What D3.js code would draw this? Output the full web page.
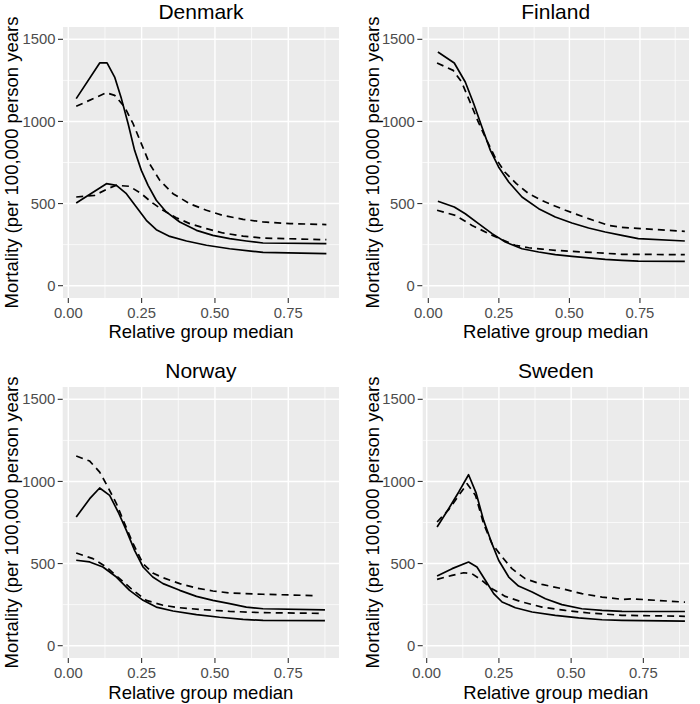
<!DOCTYPE html>
<html>
<head>
<meta charset="utf-8">
<script src="https://cdn.jsdelivr.net/npm/d3@7"></script>
<style>
  html, body { margin: 0; padding: 0; background: #fff; }
  svg { display: block; font-family: "Liberation Sans", Arial, sans-serif; }
</style>
</head>
<body>
<svg id="chart" width="700" height="704"></svg>
<script>
// ---------------- DATA ----------------
const countries = ["Denmark", "Finland", "Norway", "Sweden"];
const xTicks = [0, 0.25, 0.5, 0.75];
const xTickLabels = ["0.00", "0.25", "0.50", "0.75"];
const yTicks = [0, 500, 1000, 1500];
const yTickLabels = ["0", "500", "1000", "1500"];
const xTitle = "Relative group median";
const yTitle = "Mortality (per 100,000 person years";

// series: [relative group median, mortality]
const denmarkSolidHigh = [[0.027,1139],[0.107,1356],[0.132,1356],[0.158,1270],[0.181,1139],[0.204,986],[0.226,824],[0.249,702],[0.272,611],[0.300,520],[0.334,449],[0.380,388],[0.437,337],[0.493,306],[0.550,286],[0.607,272],[0.664,260],[0.880,256]];
const denmarkDashedHigh = [[0.027,1092],[0.130,1175],[0.158,1159],[0.192,1088],[0.221,986],[0.249,865],[0.277,743],[0.312,641],[0.357,560],[0.414,499],[0.471,459],[0.527,428],[0.596,404],[0.664,388],[0.756,378],[0.880,372]];
const denmarkSolidLow = [[0.027,503],[0.130,621],[0.164,611],[0.198,560],[0.232,479],[0.266,398],[0.300,341],[0.346,300],[0.403,272],[0.471,246],[0.550,225],[0.630,209],[0.664,203],[0.880,195]];
const denmarkDashedLow = [[0.027,540],[0.090,550],[0.135,591],[0.164,611],[0.209,605],[0.249,560],[0.283,509],[0.323,459],[0.368,414],[0.414,378],[0.471,347],[0.527,321],[0.596,302],[0.664,290],[0.880,280]];

const finlandSolidHigh = [[0.034,1423],[0.092,1356],[0.131,1240],[0.161,1108],[0.190,966],[0.220,824],[0.249,723],[0.285,631],[0.332,540],[0.391,469],[0.450,418],[0.509,382],[0.568,351],[0.627,327],[0.686,306],[0.744,287],[0.909,272]];
const finlandDashedHigh = [[0.031,1356],[0.088,1311],[0.118,1240],[0.148,1118],[0.177,997],[0.207,885],[0.236,783],[0.271,692],[0.312,621],[0.356,560],[0.415,509],[0.486,459],[0.568,408],[0.639,367],[0.686,355],[0.909,331]];
const finlandSolidLow = [[0.034,514],[0.092,479],[0.131,438],[0.178,378],[0.226,317],[0.273,266],[0.332,225],[0.391,205],[0.450,189],[0.509,179],[0.568,169],[0.627,160],[0.686,154],[0.744,149],[0.909,148]];
const finlandDashedLow = [[0.031,459],[0.096,428],[0.155,367],[0.214,317],[0.261,280],[0.308,246],[0.356,231],[0.403,223],[0.450,215],[0.509,209],[0.592,201],[0.686,191],[0.909,189]];

const norwaySolidHigh = [[0.027,783],[0.073,895],[0.107,960],[0.141,915],[0.170,814],[0.198,702],[0.226,580],[0.255,479],[0.288,418],[0.323,378],[0.380,337],[0.437,300],[0.493,276],[0.550,256],[0.607,235],[0.664,225],[0.875,218]];
const norwayDashedHigh = [[0.027,1155],[0.073,1124],[0.107,1057],[0.135,966],[0.164,865],[0.192,743],[0.221,621],[0.255,499],[0.288,442],[0.323,414],[0.380,378],[0.437,351],[0.493,333],[0.550,321],[0.664,313],[0.840,305]];
const norwaySolidLow = [[0.027,520],[0.073,510],[0.118,479],[0.164,418],[0.209,337],[0.255,276],[0.300,235],[0.357,211],[0.437,189],[0.516,173],[0.596,160],[0.664,154],[0.875,153]];
const norwayDashedLow = [[0.027,564],[0.084,530],[0.130,479],[0.175,408],[0.221,337],[0.266,276],[0.323,246],[0.380,231],[0.459,219],[0.550,209],[0.664,201],[0.858,197]];

const swedenSolidHigh = [[0.036,723],[0.076,834],[0.111,936],[0.145,1041],[0.171,930],[0.197,763],[0.226,621],[0.249,520],[0.284,418],[0.318,363],[0.365,327],[0.411,286],[0.468,250],[0.537,225],[0.607,215],[0.676,209],[0.894,208]];
const swedenDashedHigh = [[0.036,753],[0.076,828],[0.111,915],[0.140,986],[0.169,915],[0.197,743],[0.226,621],[0.261,540],[0.295,469],[0.341,408],[0.399,373],[0.468,347],[0.537,317],[0.607,296],[0.676,282],[0.715,285],[0.894,265]];
const swedenSolidLow = [[0.036,424],[0.088,469],[0.145,509],[0.174,479],[0.203,398],[0.232,317],[0.261,266],[0.307,231],[0.365,205],[0.445,185],[0.526,169],[0.607,158],[0.676,154],[0.894,149]];
const swedenDashedLow = [[0.036,404],[0.088,428],[0.128,444],[0.157,438],[0.191,398],[0.226,347],[0.272,300],[0.330,266],[0.399,235],[0.480,215],[0.561,199],[0.676,185],[0.894,179]];

const seriesByCountry = {
  Denmark: [denmarkSolidHigh, denmarkDashedHigh, denmarkSolidLow, denmarkDashedLow],
  Finland: [finlandSolidHigh, finlandDashedHigh, finlandSolidLow, finlandDashedLow],
  Norway: [norwaySolidHigh, norwayDashedHigh, norwaySolidLow, norwayDashedLow],
  Sweden: [swedenSolidHigh, swedenDashedHigh, swedenSolidLow, swedenDashedLow]
};
const seriesDashed = [false, true, false, true];

// ---------------- LAYOUT ----------------
const panels = {
  Denmark: {x0: 63,    x1: 339, y0: 27,  y1: 298, xd: [-0.0181, 0.9230], titleY: 19, tickY: 318, axTitleY: 338, yTitleX: 17.5},
  Finland: {x0: 422.3, x1: 689, y0: 27,  y1: 298, xd: [-0.0213, 0.9238], titleY: 19, tickY: 318, axTitleY: 338, yTitleX: 378.5},
  Norway:  {x0: 62.7,  x1: 339, y0: 387, y1: 658, xd: [-0.0191, 0.9230], titleY: 378,  tickY: 678, axTitleY: 698.5, yTitleX: 17.5},
  Sweden:  {x0: 422.7, x1: 689, y0: 387, y1: 658, xd: [-0.0138, 0.9080], titleY: 378,  tickY: 678, axTitleY: 698.5, yTitleX: 378.5}
};

const svg = d3.select("#chart");
svg.append("rect").attr("width", 700).attr("height", 704).attr("fill", "#fff");

countries.forEach(c => {
  const p = panels[c];
  const x = d3.scaleLinear().domain(p.xd).range([p.x0, p.x1]);
  const y = d3.scaleLinear().domain([-75, 1575]).range([p.y1, p.y0]);
  const g = svg.append("g");

  g.append("rect").attr("x", p.x0).attr("y", p.y0)
    .attr("width", p.x1 - p.x0).attr("height", p.y1 - p.y0).attr("fill", "#EBEBEB");

  // minor grid
  const xMinor = [0.125, 0.375, 0.625, 0.875].filter(v => v >= p.xd[0] && v <= p.xd[1]);
  const yMinor = [250, 750, 1250];
  g.selectAll(".xminor").data(xMinor).enter().append("line")
    .attr("x1", d => x(d)).attr("x2", d => x(d)).attr("y1", p.y0).attr("y2", p.y1)
    .attr("stroke", "#fff").attr("stroke-width", 0.7);
  g.selectAll(".yminor").data(yMinor).enter().append("line")
    .attr("y1", d => y(d)).attr("y2", d => y(d)).attr("x1", p.x0).attr("x2", p.x1)
    .attr("stroke", "#fff").attr("stroke-width", 0.7);
  // major grid
  g.selectAll(".xmajor").data(xTicks).enter().append("line")
    .attr("x1", d => x(d)).attr("x2", d => x(d)).attr("y1", p.y0).attr("y2", p.y1)
    .attr("stroke", "#fff").attr("stroke-width", 1.4);
  g.selectAll(".ymajor").data(yTicks).enter().append("line")
    .attr("y1", d => y(d)).attr("y2", d => y(d)).attr("x1", p.x0).attr("x2", p.x1)
    .attr("stroke", "#fff").attr("stroke-width", 1.4);

  // lines
  const line = d3.line().x(d => x(d[0])).y(d => y(d[1]));
  seriesByCountry[c].forEach((s, i) => {
    g.append("path").datum(s).attr("d", line)
      .attr("fill", "none").attr("stroke", "#000").attr("stroke-width", 1.7)
      .attr("stroke-linejoin", "round")
      .attr("stroke-dasharray", seriesDashed[i] ? "7,5" : null);
  });

  // axes ticks
  g.selectAll(".xt").data(xTicks).enter().append("line")
    .attr("x1", d => x(d)).attr("x2", d => x(d)).attr("y1", p.y1).attr("y2", p.y1 + 5)
    .attr("stroke", "#333").attr("stroke-width", 1.1);
  g.selectAll(".yt").data(yTicks).enter().append("line")
    .attr("y1", d => y(d)).attr("y2", d => y(d)).attr("x1", p.x0 - 5).attr("x2", p.x0)
    .attr("stroke", "#333").attr("stroke-width", 1.1);

  g.selectAll(".xl").data(xTicks).enter().append("text")
    .attr("x", d => x(d)).attr("y", p.tickY).attr("text-anchor", "middle")
    .attr("font-size", 14.8).attr("fill", "#4D4D4D")
    .text((d, i) => xTickLabels[i]);
  g.selectAll(".yl").data(yTicks).enter().append("text")
    .attr("x", p.x0 - 7.5).attr("y", d => y(d)).attr("dy", "0.35em").attr("text-anchor", "end")
    .attr("font-size", 14.8).attr("fill", "#4D4D4D")
    .text((d, i) => yTickLabels[i]);

  // titles
  g.append("text").attr("x", (p.x0 + p.x1) / 2).attr("y", p.titleY)
    .attr("text-anchor", "middle").attr("font-size", 21).attr("fill", "#000").text(c);
  g.append("text").attr("x", (p.x0 + p.x1) / 2).attr("y", p.axTitleY)
    .attr("text-anchor", "middle").attr("font-size", 18.5).attr("fill", "#000").text(xTitle);
  g.append("text")
    .attr("transform", `translate(${p.yTitleX},${(p.y0 + p.y1) / 2}) rotate(-90)`)
    .attr("text-anchor", "middle").attr("font-size", 18.5).attr("fill", "#000").text(yTitle);
});
</script>
</body>
</html>
